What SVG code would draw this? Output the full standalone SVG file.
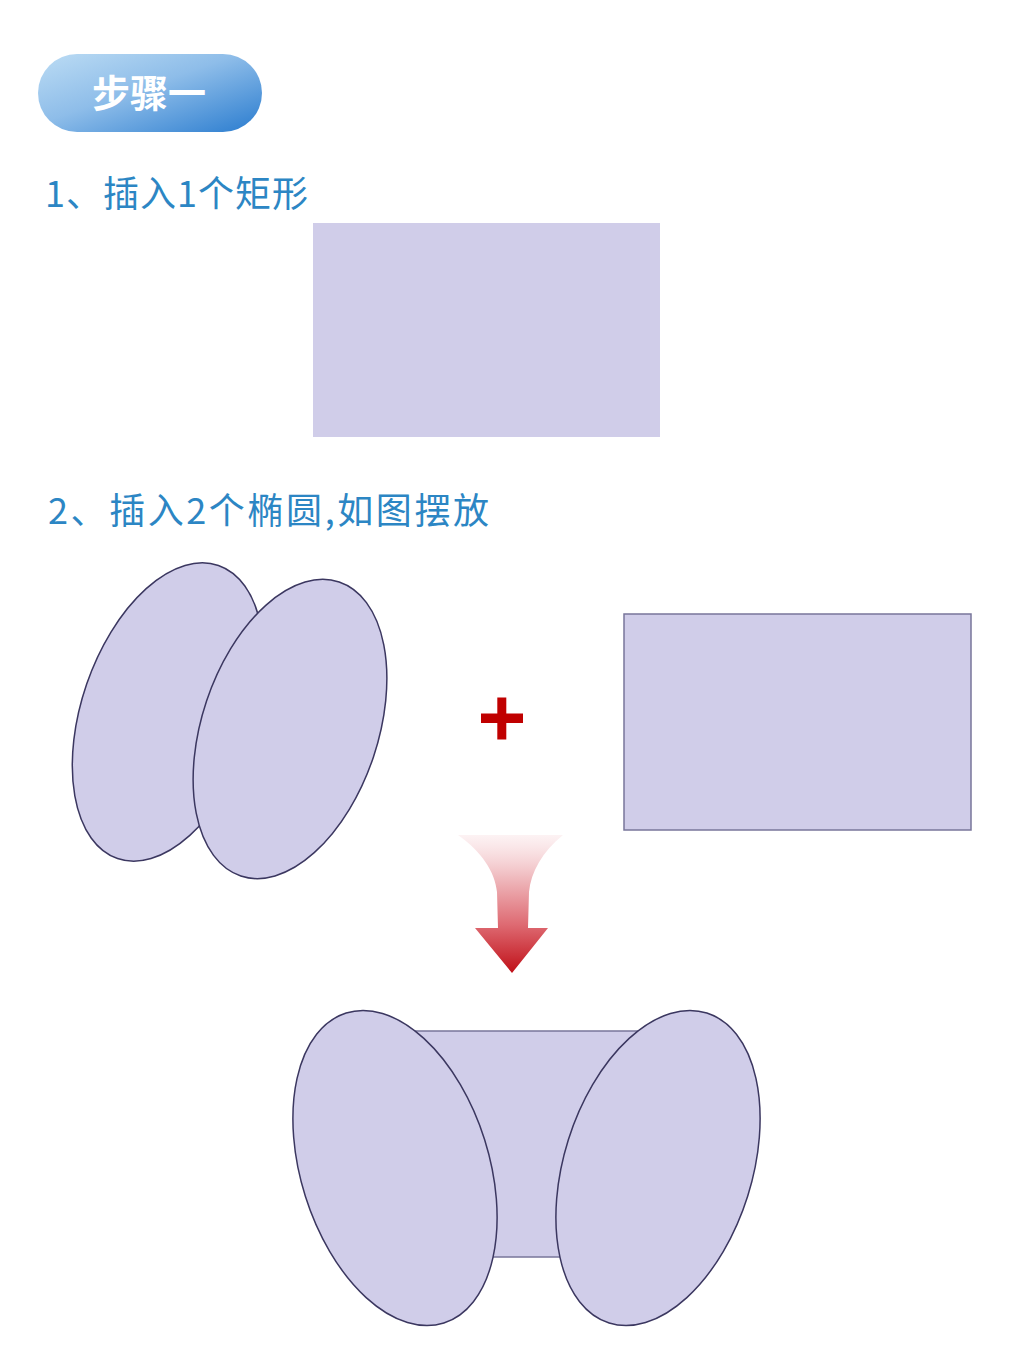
<svg xmlns="http://www.w3.org/2000/svg" width="1024" height="1365" viewBox="0 0 1024 1365">
<defs>
<linearGradient id="pill" x1="0" y1="0" x2="1" y2="1">
<stop offset="0" stop-color="#bcdcf4"/>
<stop offset="0.45" stop-color="#8ebde9"/>
<stop offset="1" stop-color="#2a7ccf"/>
</linearGradient>
<linearGradient id="arr" x1="0" y1="835" x2="0" y2="973" gradientUnits="userSpaceOnUse">
<stop offset="0" stop-color="#fbeaec" stop-opacity="0.6"/>
<stop offset="0.3" stop-color="#f0bcc0"/>
<stop offset="0.65" stop-color="#de6a72"/>
<stop offset="1" stop-color="#c01018"/>
</linearGradient>
<style>
.shape{fill:#d0cde9;stroke:#3b3760;stroke-width:1.5}
.rect{fill:#d0cde9;stroke:#78769a;stroke-width:1.5}
.step{font-family:"Noto Sans CJK SC","Noto Sans",sans-serif;fill:#2c86c4;font-size:36px}
</style>
</defs>
<rect width="1024" height="1365" fill="#ffffff"/>
<g id="header">
<rect x="38" y="54" width="224" height="78" rx="39" fill="url(#pill)"/>
<text x="149" y="107" text-anchor="middle" font-family="'Noto Sans CJK SC',sans-serif" font-weight="bold" font-size="38" fill="#ffffff">步骤一</text>
</g>
<g id="step1">
<text class="step" x="45" y="207" textLength="263" lengthAdjust="spacing">1、插入1个矩形</text>
<rect x="313" y="223" width="347" height="214" fill="#d0cde9"/>
</g>
<g id="step2">
<text class="step" x="48" y="524" textLength="441" lengthAdjust="spacing">2、插入2个椭圆,如图摆放</text>
</g>
<g id="ellipses-top">
<ellipse class="shape" cx="168" cy="712" rx="86" ry="155" transform="rotate(19 168 712)"/>
<ellipse class="shape" cx="290" cy="729" rx="88" ry="155" transform="rotate(18.5 290 729)"/>
</g>
<g id="plus">
<rect x="481" y="713.5" width="42" height="9.5" fill="#c00000"/>
<rect x="497.3" y="697.5" width="9" height="42" fill="#c00000"/>
</g>
<g id="rect-right">
<rect class="rect" x="624" y="614" width="347" height="216"/>
</g>
<g id="arrow">
<path d="M458,835 C482,852 495,872 497,892 L498,928 L475,928 L512,973 L548,928 L528,928 L529,892 C531,872 542,852 563,835 Z" fill="url(#arr)"/>
</g>
<g id="result">
<rect class="rect" x="400" y="1031" width="260" height="226"/>
<ellipse class="shape" cx="395" cy="1168" rx="94" ry="162.5" transform="rotate(-17.5 395 1168)"/>
<ellipse class="shape" cx="658" cy="1168" rx="94" ry="162.5" transform="rotate(17.5 658 1168)"/>
</g>
</svg>
